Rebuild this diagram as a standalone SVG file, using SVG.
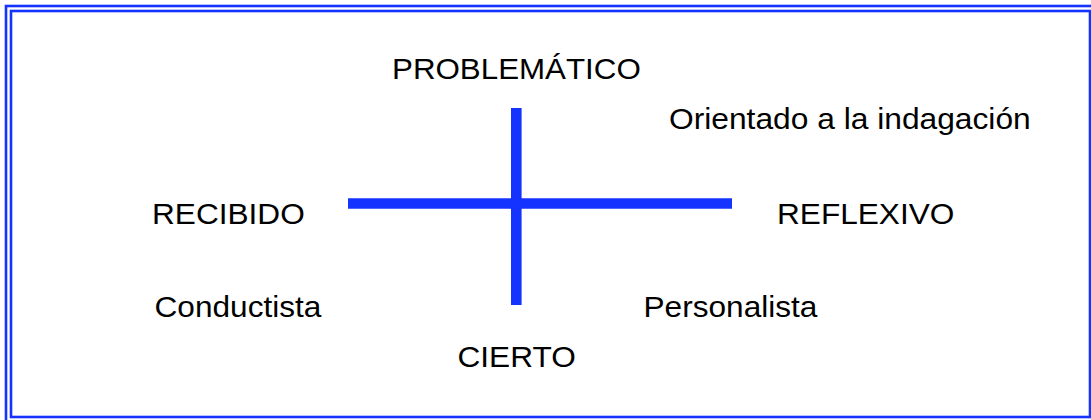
<svg xmlns="http://www.w3.org/2000/svg" width="1091" height="420" viewBox="0 0 1091 420">
  <style>
    .frame { fill: none; stroke: #1433FF; stroke-width: 2.6; }
    .axis { stroke: #1433FF; stroke-width: 10.6; fill: none; }
    .lbl { font-family: "Liberation Sans", Arial, sans-serif; font-size: 29px; fill: #000000; }
  </style>
  <rect width="1091" height="420" fill="#FFFFFF"/>
  <g id="frame">
    <rect class="frame" x="6" y="6" width="1092" height="422"/>
    <rect class="frame" x="11" y="11" width="1079" height="406"/>
  </g>
  <g id="connectors">
    <line class="axis" x1="516.3" y1="108" x2="516.3" y2="305"/>
    <line class="axis" x1="348" y1="203.5" x2="732" y2="203.5"/>
  </g>
  <g id="problematico">
    <text class="lbl" transform="translate(392,79.3) scale(1.08,1)">PROBLEMÁTICO</text>
  </g>
  <g id="orientado">
    <text class="lbl" transform="translate(669,129.3) scale(1.095,1)">Orientado a la indagación</text>
  </g>
  <g id="recibido">
    <text class="lbl" transform="translate(152,224) scale(1.09,1)">RECIBIDO</text>
  </g>
  <g id="reflexivo">
    <text class="lbl" transform="translate(777,224) scale(1.09,1)">REFLEXIVO</text>
  </g>
  <g id="conductista">
    <text class="lbl" transform="translate(154.5,316.7) scale(1.09,1)">Conductista</text>
  </g>
  <g id="personalista">
    <text class="lbl" transform="translate(643.5,316.7) scale(1.09,1)">Personalista</text>
  </g>
  <g id="cierto">
    <text class="lbl" transform="translate(457.5,367.3) scale(1.09,1)">CIERTO</text>
  </g>
</svg>
